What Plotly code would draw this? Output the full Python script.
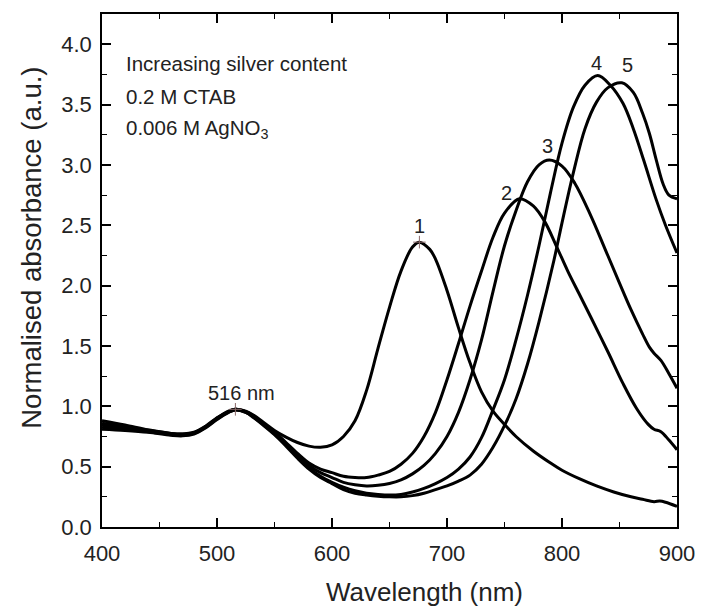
import plotly.graph_objects as go

# ---- data ----
wl_common = [400, 420, 440, 460, 470, 480, 490, 500, 510, 516, 525, 532]
a_common = [
    [0.88, 0.845, 0.805, 0.775, 0.77, 0.785, 0.835, 0.905, 0.96, 0.975, 0.96, 0.925],
    [0.86, 0.83, 0.80, 0.775, 0.77, 0.78, 0.83, 0.90, 0.955, 0.975, 0.955, 0.92],
    [0.85, 0.82, 0.795, 0.77, 0.765, 0.78, 0.83, 0.90, 0.955, 0.975, 0.955, 0.915],
    [0.83, 0.81, 0.79, 0.765, 0.76, 0.775, 0.825, 0.895, 0.95, 0.97, 0.95, 0.91],
    [0.81, 0.80, 0.785, 0.76, 0.755, 0.77, 0.82, 0.89, 0.95, 0.97, 0.95, 0.905],
]

wl_1 = [540, 550, 560, 570, 580, 590, 600, 610, 620, 630, 640, 650, 660, 670, 676, 685, 690, 700,
        710, 720, 730, 740, 750, 760, 775, 790, 800, 815, 830, 845, 860, 870, 880, 885, 890, 900]
a_1 = [0.87, 0.80, 0.745, 0.70, 0.67, 0.66, 0.68, 0.75, 0.88, 1.13, 1.48, 1.82, 2.12, 2.32, 2.36, 2.30, 2.22, 1.96,
       1.65, 1.36, 1.12, 0.96, 0.85, 0.75, 0.63, 0.53, 0.47, 0.40, 0.34, 0.29, 0.25, 0.23, 0.21, 0.215, 0.205, 0.17]

wl_2 = [540, 550, 560, 570, 580, 590, 600, 610, 620, 630, 640, 650, 660, 670, 680, 690, 700, 710, 720,
        730, 740, 750, 763, 775, 785, 795, 805, 815, 825, 840, 853, 865, 875, 880, 886, 893, 900]
a_2 = [0.86, 0.79, 0.70, 0.61, 0.53, 0.48, 0.45, 0.42, 0.41, 0.41, 0.43, 0.46, 0.52, 0.61, 0.75, 0.95, 1.22, 1.52, 1.83,
       2.12, 2.40, 2.60, 2.72, 2.66, 2.53, 2.33, 2.12, 1.93, 1.74, 1.45, 1.19, 0.98, 0.85, 0.81, 0.79, 0.72, 0.64]

wl_3 = [540, 550, 560, 570, 580, 590, 600, 610, 620, 630, 640, 650, 660, 670, 680, 690, 700, 710, 720, 730,
        740, 750, 760, 770, 780, 789, 800, 811, 825, 838, 850, 860, 870, 876, 880, 886, 893, 900]
a_3 = [0.855, 0.78, 0.69, 0.59, 0.51, 0.45, 0.41, 0.37, 0.35, 0.34, 0.345, 0.36, 0.39, 0.44, 0.51, 0.61, 0.75, 0.95, 1.22, 1.55,
       1.95, 2.33, 2.62, 2.86, 3.00, 3.04, 2.99, 2.85, 2.58, 2.29, 2.02, 1.80, 1.60, 1.49, 1.44, 1.38, 1.27, 1.15]

wl_4 = [540, 550, 560, 570, 580, 590, 600, 610, 620, 630, 640, 650, 660, 670, 680, 690, 700, 710, 720, 730,
        740, 750, 760, 770, 780, 790, 800, 810, 820, 831, 842, 853, 862, 871, 882, 890, 900]
a_4 = [0.85, 0.77, 0.68, 0.58, 0.49, 0.42, 0.37, 0.33, 0.30, 0.28, 0.27, 0.265, 0.27, 0.29, 0.32, 0.36, 0.41, 0.48, 0.58, 0.74,
       0.97, 1.22, 1.55, 1.92, 2.33, 2.77, 3.18, 3.48, 3.66, 3.74, 3.66, 3.51, 3.30, 3.04, 2.71, 2.50, 2.27]

wl_5 = [540, 550, 560, 570, 580, 590, 600, 610, 620, 630, 640, 650, 660, 670, 680, 690, 700, 710, 720, 730,
        740, 751, 760, 770, 780, 793, 800, 810, 820, 830, 840, 852, 862, 870, 876, 882, 888, 893, 900]
a_5 = [0.845, 0.765, 0.67, 0.57, 0.48, 0.41, 0.36, 0.31, 0.28, 0.265, 0.255, 0.25, 0.25, 0.26, 0.28, 0.31, 0.34, 0.38, 0.43, 0.52,
       0.66, 0.86, 1.06, 1.35, 1.70, 2.21, 2.52, 2.94, 3.30, 3.52, 3.64, 3.68, 3.60, 3.43, 3.26, 3.04, 2.84, 2.75, 2.72]

peak_labels = ["1", "2", "3", "4", "5"]
peak_label_x = [676, 752, 787, 830, 857]
peak_label_y = [2.49, 2.77, 3.16, 3.84, 3.83]

marker_x = [516, 676]
marker_y = [0.975, 2.36]

info_lines = ["Increasing silver content", "0.2 M CTAB", "0.006 M AgNO<sub>3</sub>"]
info_y = [3.84, 3.57, 3.30]

series_wl = [wl_1, wl_2, wl_3, wl_4, wl_5]
series_a = [a_1, a_2, a_3, a_4, a_5]

FONT = "Liberation Sans, Arial, sans-serif"

fig = go.Figure()
for i in range(5):
    x = wl_common + series_wl[i]
    y = a_common[i] + series_a[i]
    fig.add_trace(go.Scatter(x=x, y=y, mode="lines",
                             line=dict(color="black", width=3, shape="spline", smoothing=1.0),
                             showlegend=False, hoverinfo="skip"))

fig.add_trace(go.Scatter(x=marker_x, y=marker_y, mode="markers",
                         marker=dict(symbol="cross-thin", size=9, line=dict(color="#8a6a6a", width=1)),
                         showlegend=False, hoverinfo="skip"))

annotations = []
for t, xx, yy in zip(peak_labels, peak_label_x, peak_label_y):
    annotations.append(dict(x=xx, y=yy, text=t, showarrow=False,
                            font=dict(family=FONT, size=20, color="#222"),
                            xanchor="center", yanchor="middle"))
annotations.append(dict(x=521, y=1.11, text="516 nm", showarrow=False,
                        font=dict(family=FONT, size=20, color="#222"),
                        xanchor="center", yanchor="middle"))
for t, yy in zip(info_lines, info_y):
    annotations.append(dict(x=419, y=yy, text=t, showarrow=False,
                            font=dict(family=FONT, size=20.5, color="#222"),
                            xanchor="left", yanchor="middle"))
# axis titles
annotations.append(dict(xref="paper", yref="paper", x=-0.122, y=0.544,
                        text="Normalised absorbance (a.u.)", textangle=-90, showarrow=False,
                        font=dict(family=FONT, size=27.5, color="#222"),
                        xanchor="center", yanchor="middle"))
annotations.append(dict(xref="paper", yref="paper", x=0.5615, y=-0.127,
                        text="Wavelength (nm)", showarrow=False,
                        font=dict(family=FONT, size=26, color="#222"),
                        xanchor="center", yanchor="middle"))

axis_common = dict(showline=True, linecolor="black", linewidth=1.5, mirror="ticks",
                   ticks="inside", ticklen=9, tickwidth=1.5, tickcolor="black",
                   showgrid=False, zeroline=False,
                   tickfont=dict(family=FONT, size=22, color="#222"))

fig.update_layout(
    width=707, height=610,
    margin=dict(l=102, r=20, t=14, b=83),
    paper_bgcolor="white", plot_bgcolor="white",
    xaxis=dict(range=[400, 900], dtick=100, tick0=400,
               minor=dict(ticks="inside", ticklen=5, dtick=50, tickcolor="black", tickwidth=1.2),
               ticklabelstandoff=6, **axis_common),
    yaxis=dict(range=[0, 4.25], dtick=0.5, tick0=0, tickformat=".1f",
               minor=dict(ticks="inside", ticklen=5, dtick=0.25, tickcolor="black", tickwidth=1.2),
               ticklabelstandoff=4, **axis_common),
    annotations=annotations,
)

fig.write_html("out.html")
